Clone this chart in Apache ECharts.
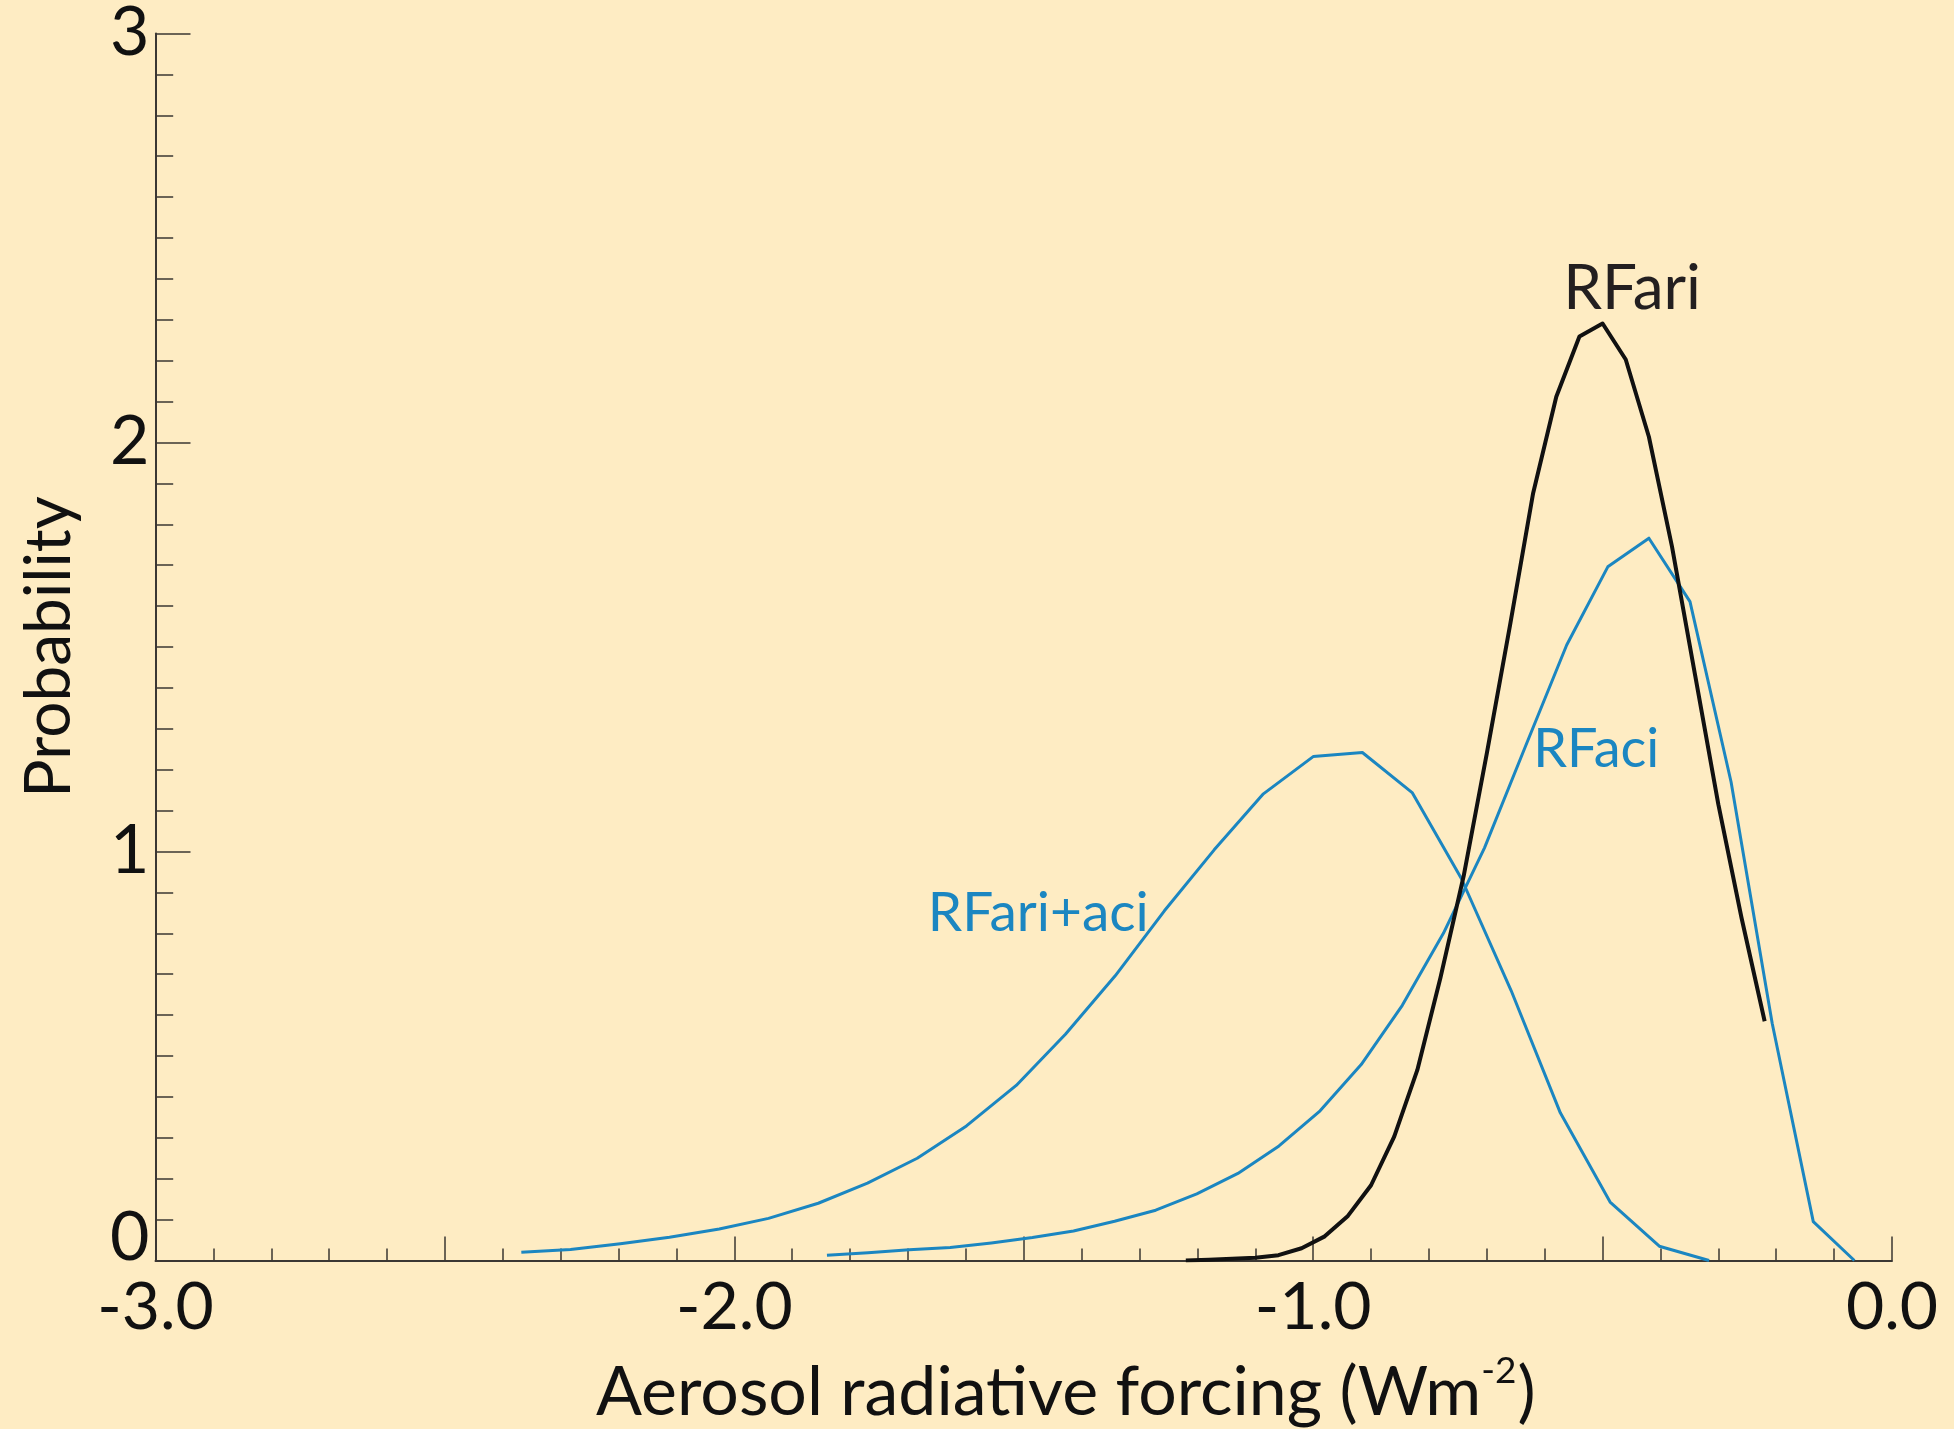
<!DOCTYPE html>
<html>
<head>
<meta charset="utf-8">
<script src="https://cdn.jsdelivr.net/npm/echarts@6/dist/echarts.min.js"></script>
<style>
html,body{margin:0;padding:0;background:#FEECC3;}
#chart{width:1954px;height:1429px;}
</style>
</head>
<body>
<div id="chart"></div>
<script>
// ---- data ----
const rfariX = [-1.22,-1.18,-1.14,-1.10,-1.06,-1.02,-0.98,-0.94,-0.90,-0.86,-0.82,-0.78,-0.74,-0.70,-0.66,-0.62,-0.58,-0.54,-0.50,-0.46,-0.42,-0.38,-0.34,-0.30,-0.26,-0.22];
const rfariY = [0.000,0.002,0.004,0.007,0.013,0.030,0.059,0.109,0.184,0.303,0.466,0.692,0.940,1.240,1.552,1.876,2.112,2.259,2.291,2.203,2.014,1.745,1.430,1.115,0.838,0.585];

const rfaciX = [-1.840,-1.769,-1.698,-1.627,-1.556,-1.485,-1.414,-1.343,-1.272,-1.201,-1.130,-1.059,-0.988,-0.917,-0.846,-0.775,-0.704,-0.633,-0.562,-0.491,-0.420,-0.349,-0.278,-0.207,-0.136,-0.065];
const rfaciY = [0.013,0.019,0.026,0.032,0.043,0.056,0.072,0.096,0.123,0.163,0.213,0.280,0.366,0.479,0.624,0.800,1.009,1.258,1.505,1.696,1.766,1.611,1.170,0.580,0.095,0.000];

const rfariaciX = [-2.368,-2.283,-2.197,-2.112,-2.026,-1.941,-1.855,-1.770,-1.684,-1.599,-1.513,-1.428,-1.342,-1.257,-1.171,-1.086,-1.000,-0.915,-0.829,-0.744,-0.658,-0.573,-0.487,-0.402,-0.316];
const rfariaciY = [0.020,0.027,0.041,0.057,0.077,0.103,0.140,0.189,0.250,0.329,0.428,0.553,0.696,0.855,1.004,1.141,1.232,1.242,1.144,0.934,0.660,0.361,0.143,0.035,0.000];

const seriesNames = ['RFari', 'RFaci', 'RFari+aci'];
// label anchor points in data units
const labelPos = {
  'RFari': [-0.449, 2.375],
  'RFaci': [-0.511, 1.248],
  'RFari+aci': [-1.475, 0.850]
};
const xTickLabels = ['-3.0', '-2.0', '-1.0', '0.0'];
const yTickLabels = ['0', '1', '2', '3'];

// ---- chart ----
const FONT = 'Lato, "Open Sans", sans-serif';
const BLUE = '#1B86C1';
const BLACK = '#111111';
const AXIS = '#3B3733';

function zip(xs, ys) { return xs.map((x, i) => [x, ys[i]]); }

function labelPoint(name, color, size) {
  return {
    symbol: 'circle',
    symbolSize: 1,
    itemStyle: { color: 'rgba(0,0,0,0)' },
    label: { show: true, position: 'inside', formatter: name, color: color, fontSize: size, fontFamily: FONT },
    data: [{ coord: labelPos[name] }],
    silent: true,
    animation: false
  };
}

const chart = echarts.init(document.getElementById('chart'), null, { renderer: 'canvas' });
chart.setOption({
  backgroundColor: '#FEECC3',
  animation: false,
  grid: { left: 155.5, right: 62, top: 33.5, bottom: 168.5, containLabel: false, outerBoundsMode: 'none' },
  xAxis: {
    type: 'value', min: -3, max: 0, interval: 0.5,
    axisLine: { show: true, onZero: false, lineStyle: { color: AXIS, width: 2 } },
    axisTick: { show: true, inside: true, length: 24, lineStyle: { color: AXIS, width: 1.5 } },
    minorTick: { show: true, splitNumber: 5, length: 12, lineStyle: { color: AXIS, width: 1.5 } },
    splitLine: { show: false },
    axisLabel: {
      fontSize: 66, fontFamily: FONT, color: BLACK, margin: 14,
      formatter: function (v) {
        const r = Math.round(v);
        if (Math.abs(v - r) > 1e-6) return '';
        const lab = xTickLabels.find(t => parseFloat(t) === r);
        return lab !== undefined ? lab : v.toFixed(1);
      }
    },
    name: '{n|Aerosol radiative forcing (Wm}{s|-2}{n|)}',
    nameLocation: 'middle', nameGap: 78,
    nameTextStyle: {
      padding: [0, 0, 0, 84],
      rich: {
        n: { fontSize: 68, fontFamily: FONT, color: BLACK, lineHeight: 82, verticalAlign: 'bottom' },
        s: { fontSize: 37, fontFamily: FONT, color: BLACK, lineHeight: 82, verticalAlign: 'top', padding: [7, 1, 0, 0] }
      }
    }
  },
  yAxis: {
    type: 'value', min: 0, max: 3, interval: 1,
    axisLine: { show: true, onZero: false, lineStyle: { color: AXIS, width: 2 } },
    axisTick: { show: true, inside: true, length: 35, lineStyle: { color: AXIS, width: 1.5 } },
    minorTick: { show: true, splitNumber: 10, length: 17.7, lineStyle: { color: AXIS, width: 1.5 } },
    splitLine: { show: false },
    axisLabel: {
      fontSize: 68, fontFamily: FONT, color: BLACK, margin: 6,
      formatter: function (v) {
        const lab = yTickLabels[Math.round(v)];
        if (Math.round(v) === 0) return '{z|' + lab + '}';
        return lab;
      },
      rich: { z: { fontSize: 68, fontFamily: FONT, color: BLACK, padding: [0, 0, 44, 0] } }
    },
    name: 'Probability',
    nameLocation: 'middle', nameGap: 74, nameRotate: 90,
    nameTextStyle: { fontSize: 64, fontFamily: FONT, color: BLACK }
  },
  series: [
    {
      name: seriesNames[0], type: 'line', data: zip(rfariX, rfariY),
      symbol: 'none', smooth: false, z: 3,
      lineStyle: { color: BLACK, width: 4, join: 'round' },
      markPoint: labelPoint('RFari', '#231F20', 62)
    },
    {
      name: seriesNames[1], type: 'line', data: zip(rfaciX, rfaciY),
      symbol: 'none', smooth: false, z: 2,
      lineStyle: { color: BLUE, width: 3, join: 'round' },
      markPoint: labelPoint('RFaci', BLUE, 54)
    },
    {
      name: seriesNames[2], type: 'line', data: zip(rfariaciX, rfariaciY),
      symbol: 'none', smooth: false, z: 2,
      lineStyle: { color: BLUE, width: 3, join: 'round' },
      markPoint: labelPoint('RFari+aci', BLUE, 55)
    }
  ]
});
</script>
</body>
</html>
